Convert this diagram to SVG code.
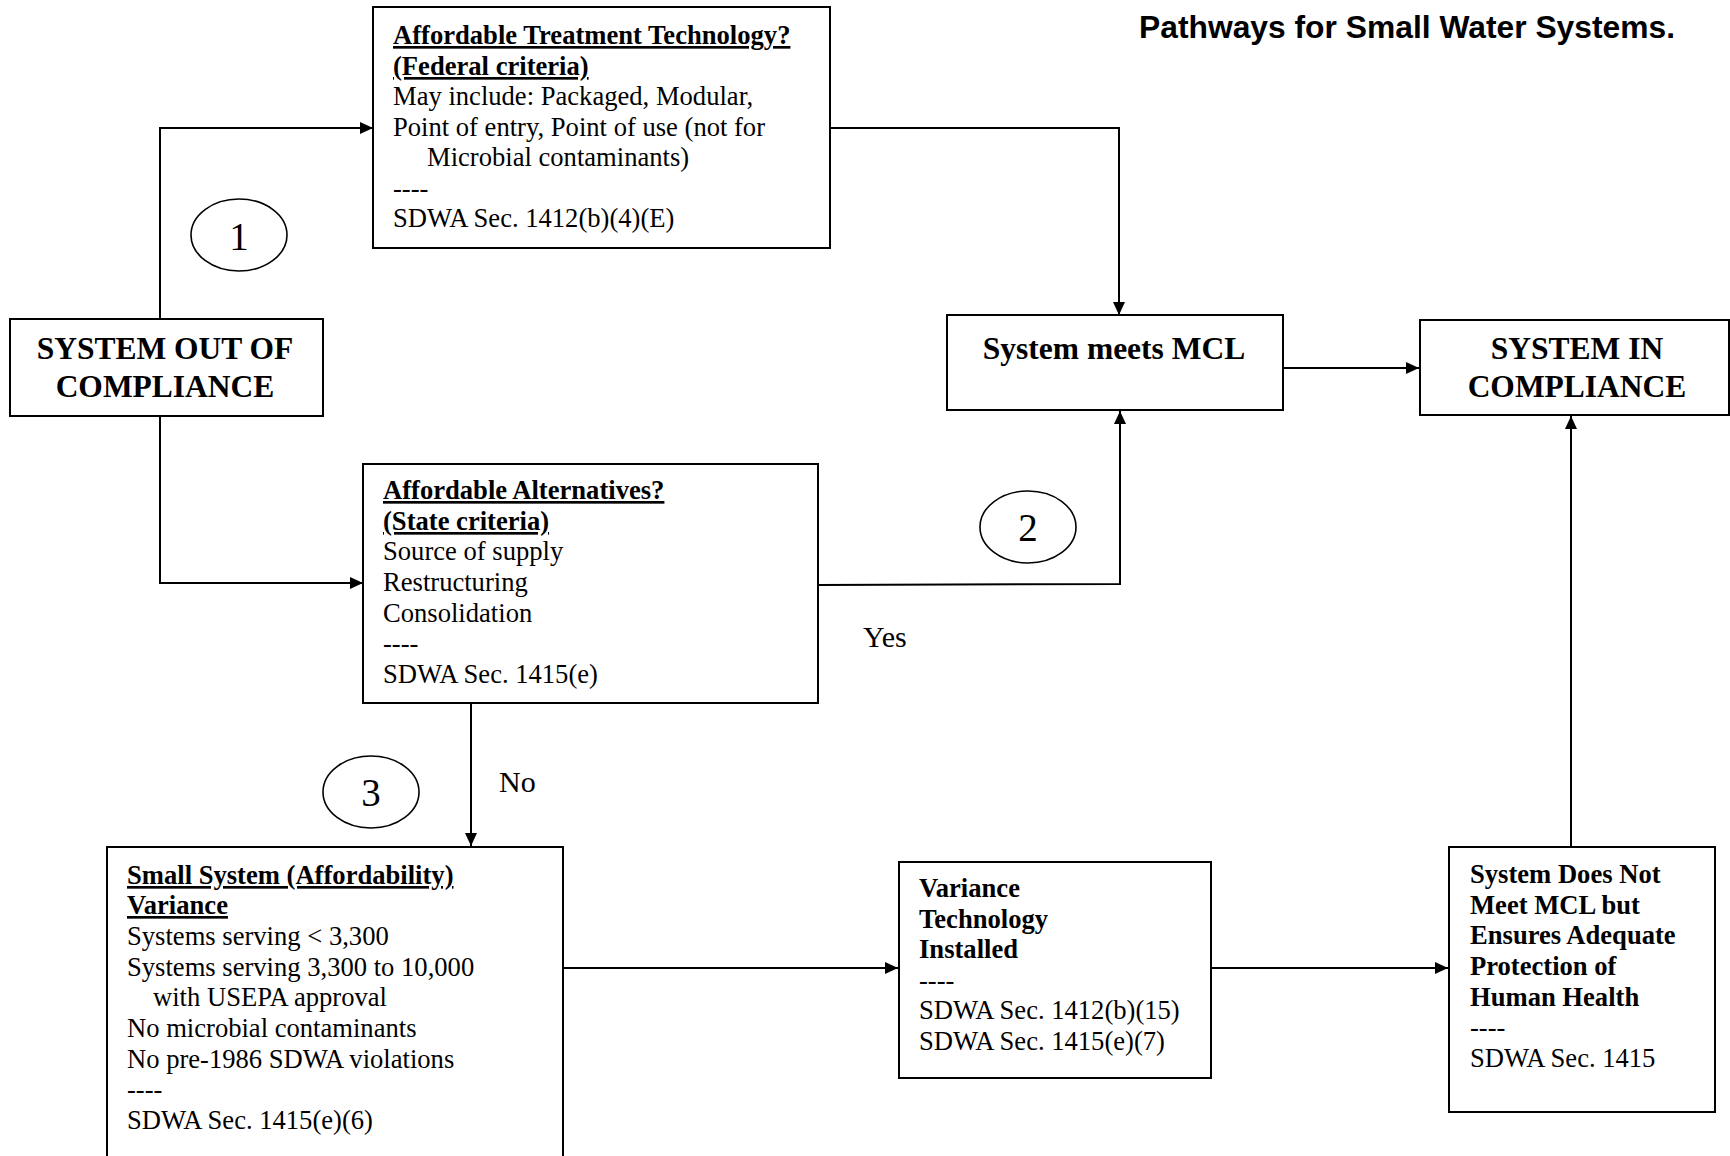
<svg xmlns="http://www.w3.org/2000/svg" width="1730" height="1156" viewBox="0 0 1730 1156">
<defs>
<marker id="arr" markerUnits="userSpaceOnUse" markerWidth="14" markerHeight="12" refX="13" refY="6" orient="auto">
<path d="M0,0 L13,6 L0,12 z" fill="#000"/>
</marker>
<style>
.box{fill:#fff;stroke:#000;stroke-width:2}
.t{font-family:"Liberation Serif","Times New Roman",serif;font-size:26.6px;fill:#000}
.b{font-weight:bold}
.u{text-decoration:underline}
.big{font-family:"Liberation Serif","Times New Roman",serif;font-size:31.5px;font-weight:bold;fill:#000;text-anchor:middle}
.lbl{font-family:"Liberation Serif","Times New Roman",serif;font-size:30px;fill:#000}
.num{font-family:"Liberation Serif","Times New Roman",serif;font-size:39px;fill:#000;text-anchor:middle}
.ell{fill:none;stroke:#000;stroke-width:1.6}
.c{fill:none;stroke:#000;stroke-width:2}
.title{font-family:"Liberation Sans",Arial,sans-serif;font-size:31.8px;font-weight:bold;fill:#000}
</style>
</defs>
<rect width="1730" height="1156" fill="#fff"/>

<text class="title" x="1139" y="38">Pathways for Small Water Systems.</text>

<g id="connectors">
<polyline class="c" points="160,319 160,128 373,128" marker-end="url(#arr)"/>
<polyline class="c" points="160,416 160,583 363,583" marker-end="url(#arr)"/>
<polyline class="c" points="829,128 1119,128 1119,315" marker-end="url(#arr)"/>
<polyline class="c" points="818,585 1120,584 1120,411" marker-end="url(#arr)"/>
<line class="c" x1="1283" y1="368" x2="1419" y2="368" marker-end="url(#arr)"/>
<line class="c" x1="471" y1="703" x2="471" y2="846" marker-end="url(#arr)"/>
<line class="c" x1="563" y1="968" x2="898" y2="968" marker-end="url(#arr)"/>
<line class="c" x1="1211" y1="968" x2="1448" y2="968" marker-end="url(#arr)"/>
<line class="c" x1="1571" y1="847" x2="1571" y2="416" marker-end="url(#arr)"/>
<text class="lbl" x="863" y="647">Yes</text>
<text class="lbl" x="499" y="792">No</text>
</g>

<g id="circle1">
<ellipse class="ell" cx="239" cy="235" rx="48" ry="36"/>
<text class="num" x="239" y="250">1</text>
</g>
<g id="circle2">
<ellipse class="ell" cx="1028" cy="527" rx="48" ry="36"/>
<text class="num" x="1028" y="541">2</text>
</g>
<g id="circle3">
<ellipse class="ell" cx="371" cy="792" rx="48" ry="36"/>
<text class="num" x="371" y="806">3</text>
</g>

<g id="out-of-compliance">
<rect class="box" x="10" y="319" width="313" height="97"/>
<text class="big" x="165" y="359">SYSTEM OUT OF</text>
<text class="big" x="165" y="397">COMPLIANCE</text>
</g>

<g id="treatment-technology">
<rect class="box" x="373" y="7" width="457" height="241"/>
<text class="t b u" x="393" y="44">Affordable Treatment Technology?</text>
<text class="t b u" x="393" y="75">(Federal criteria)</text>
<text class="t" x="393" y="105">May include: Packaged, Modular,</text>
<text class="t" x="393" y="136">Point of entry, Point of use (not for</text>
<text class="t" x="427" y="166">Microbial contaminants)</text>
<text class="t" x="393" y="197">----</text>
<text class="t" x="393" y="227">SDWA Sec. 1412(b)(4)(E)</text>
</g>

<g id="alternatives">
<rect class="box" x="363" y="464" width="455" height="239"/>
<text class="t b u" x="383" y="499">Affordable Alternatives?</text>
<text class="t b u" x="383" y="530">(State criteria)</text>
<text class="t" x="383" y="560">Source of supply</text>
<text class="t" x="383" y="591">Restructuring</text>
<text class="t" x="383" y="622">Consolidation</text>
<text class="t" x="383" y="652">----</text>
<text class="t" x="383" y="683">SDWA Sec. 1415(e)</text>
</g>

<g id="meets-mcl">
<rect class="box" x="947" y="315" width="336" height="95"/>
<text class="big" x="1114" y="359">System meets MCL</text>
</g>

<g id="in-compliance">
<rect class="box" x="1420" y="320" width="309" height="95"/>
<text class="big" x="1577" y="359">SYSTEM IN</text>
<text class="big" x="1577" y="397">COMPLIANCE</text>
</g>

<g id="small-system-variance">
<rect class="box" x="107" y="847" width="456" height="330"/>
<text class="t b u" x="127" y="884">Small System (Affordability)</text>
<text class="t b u" x="127" y="914">Variance</text>
<text class="t" x="127" y="945">Systems serving &lt; 3,300</text>
<text class="t" x="127" y="976">Systems serving 3,300 to 10,000</text>
<text class="t" x="153" y="1006">with USEPA approval</text>
<text class="t" x="127" y="1037">No microbial contaminants</text>
<text class="t" x="127" y="1068">No pre-1986 SDWA violations</text>
<text class="t" x="127" y="1098">----</text>
<text class="t" x="127" y="1129">SDWA Sec. 1415(e)(6)</text>
</g>

<g id="variance-technology">
<rect class="box" x="899" y="862" width="312" height="216"/>
<text class="t b" x="919" y="897">Variance</text>
<text class="t b" x="919" y="928">Technology</text>
<text class="t b" x="919" y="958">Installed</text>
<text class="t" x="919" y="989">----</text>
<text class="t" x="919" y="1019">SDWA Sec. 1412(b)(15)</text>
<text class="t" x="919" y="1050">SDWA Sec. 1415(e)(7)</text>
</g>

<g id="does-not-meet">
<rect class="box" x="1449" y="847" width="266" height="265"/>
<text class="t b" x="1470" y="883">System Does Not</text>
<text class="t b" x="1470" y="914">Meet MCL but</text>
<text class="t b" x="1470" y="944">Ensures Adequate</text>
<text class="t b" x="1470" y="975">Protection of</text>
<text class="t b" x="1470" y="1006">Human Health</text>
<text class="t" x="1470" y="1036">----</text>
<text class="t" x="1470" y="1067">SDWA Sec. 1415</text>
</g>
</svg>
